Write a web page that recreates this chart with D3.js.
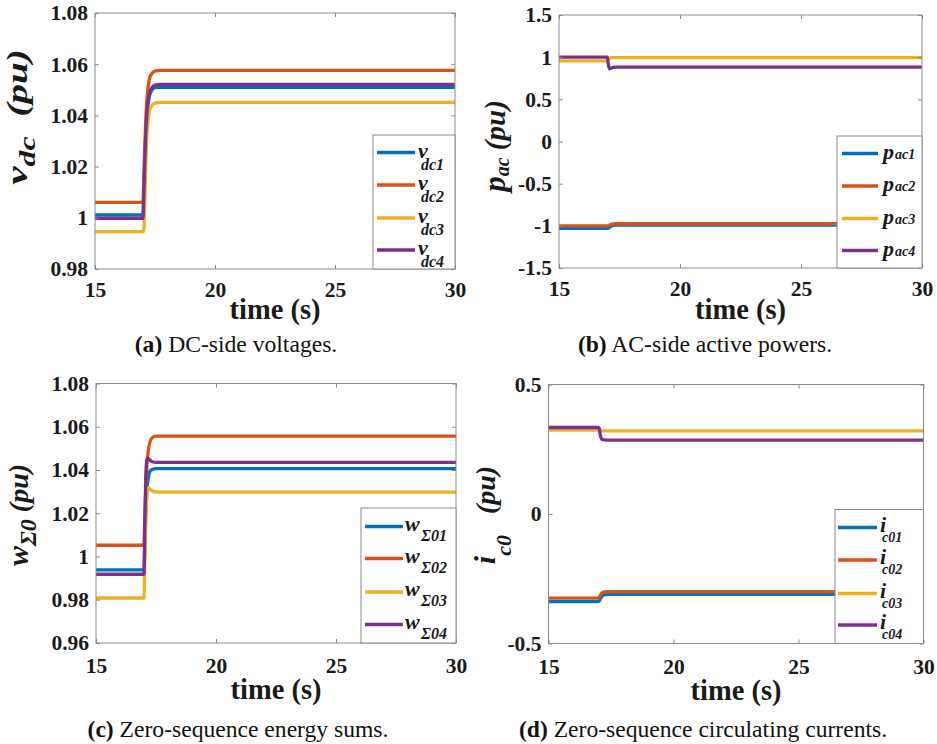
<!DOCTYPE html>
<html><head><meta charset="utf-8">
<script src="https://cdn.jsdelivr.net/npm/d3@7"></script>
<style>body{margin:0;background:#fff}svg{display:block}</style>
</head><body>
<script>
// ---------------- DATA ----------------
const xTicks = [15, 20, 25, 30];
const colors = ["#0072BD", "#D95319", "#EDB120", "#7E2F8E"];

// (a) DC-side voltages
const tA = [15, 17.0, 17.03, 17.07, 17.12, 17.18, 17.25, 17.35, 17.5, 17.7, 30];
const vdc1 = [1.0011, 1.0011, 1.0086, 1.0211, 1.0335, 1.0420, 1.0470, 1.0495, 1.0508, 1.0510, 1.0510];
const vdc2 = [1.0060, 1.0060, 1.0137, 1.0266, 1.0395, 1.0483, 1.0535, 1.0561, 1.0573, 1.0576, 1.0576];
const vdc3 = [0.9946, 0.9946, 0.9946, 1.0047, 1.0223, 1.0350, 1.0410, 1.0436, 1.0448, 1.0451, 1.0451];
const vdc4 = [0.9998, 0.9998, 1.0076, 1.0207, 1.0338, 1.0427, 1.0479, 1.0505, 1.0518, 1.0521, 1.0521];
const yTicksA = [0.98, 1.00, 1.02, 1.04, 1.06, 1.08];
const legA = ["dc1", "dc2", "dc3", "dc4"];

// (b) AC-side active powers
const tB = [15, 17.0, 17.03, 17.08, 17.15, 17.25, 17.4, 30];
const pac1 = [-1.030, -1.030, -1.028, -1.018, -1.005, -0.995, -0.990, -0.990];
const pac2 = [-1.000, -1.000, -0.999, -0.992, -0.982, -0.977, -0.975, -0.975];
const pac3 = [0.955, 0.955, 0.960, 0.985, 0.994, 0.995, 0.995, 0.995];
const pac4 = [1.000, 1.000, 0.930, 0.860, 0.870, 0.880, 0.883, 0.883];
const yTicksB = [-1.5, -1, -0.5, 0, 0.5, 1, 1.5];
const legB = ["ac1", "ac2", "ac3", "ac4"];

// (c) Zero-sequence energy sums
const tC = [15, 17.0, 17.03, 17.07, 17.12, 17.18, 17.25, 17.35, 17.5, 17.7, 30];
const wS01 = [0.9938, 0.9938, 1.0040, 1.0180, 1.0300, 1.0365, 1.0395, 1.0403, 1.0406, 1.0406, 1.0406];
const wS02 = [1.0052, 1.0052, 1.0160, 1.0300, 1.0420, 1.0490, 1.0530, 1.0550, 1.0557, 1.0557, 1.0557];
const wS03 = [0.9808, 0.9808, 0.9950, 1.0150, 1.0280, 1.0320, 1.0310, 1.0303, 1.0299, 1.0298, 1.0298];
const wS04 = [0.9918, 0.9918, 1.0120, 1.0350, 1.0450, 1.0454, 1.0445, 1.0438, 1.0435, 1.0435, 1.0435];
const yTicksC = [0.96, 0.98, 1.00, 1.02, 1.04, 1.06, 1.08];
const legC = ["Σ01", "Σ02", "Σ03", "Σ04"];

// (d) Zero-sequence circulating currents
const tD = [15, 17.0, 17.03, 17.08, 17.15, 17.25, 17.4, 30];
const ic01 = [-0.338, -0.338, -0.336, -0.326, -0.316, -0.311, -0.310, -0.310];
const ic02 = [-0.325, -0.325, -0.323, -0.313, -0.304, -0.301, -0.300, -0.300];
const ic03 = [0.324, 0.324, 0.323, 0.322, 0.321, 0.321, 0.321, 0.321];
const ic04 = [0.334, 0.334, 0.330, 0.300, 0.288, 0.286, 0.285, 0.285];
const yTicksD = [-0.5, 0, 0.5];
const legD = ["c01", "c02", "c03", "c04"];

// ---------------- DRAW ----------------
const SERIF = "'Liberation Serif','Times New Roman',serif";
const GRID = "#8a8a8a";
const svg = d3.select("body").append("svg").attr("width", 937).attr("height", 744)
  .style("font-family", SERIF);

function fmt(d) { return String(+d.toFixed(2)); }

function panel(c) {
  const x = d3.scaleLinear().domain([15, 30]).range([c.l, c.r]);
  const y = d3.scaleLinear().domain([c.yTicks[0], c.yTicks[c.yTicks.length - 1]]).range([c.b, c.t]);
  const g = svg.append("g");

  // lines
  const line = d3.line().x(d => x(d[0])).y(d => y(d[1])).curve(d3.curveMonotoneX);
  c.series.forEach((s, i) => {
    g.append("path").datum(c.time.map((t, j) => [t, s[j]]))
      .attr("d", line).attr("fill", "none")
      .attr("stroke", colors[i]).attr("stroke-width", 3.3)
      .attr("stroke-linejoin", "round");
  });

  // axes (ticks inward, mirrored)
  const ax = [
    [d3.axisBottom(x).tickValues(xTicks).tickFormat(d3.format("d")), `translate(0,${c.b})`],
    [d3.axisTop(x).tickValues(xTicks).tickFormat(""), `translate(0,${c.t})`],
    [d3.axisLeft(y).tickValues(c.yTicks).tickFormat(fmt), `translate(${c.l},0)`],
    [d3.axisRight(y).tickValues(c.yTicks).tickFormat(""), `translate(${c.r},0)`]
  ];
  ax.forEach(([a, tr], k) => {
    const ga = g.append("g").attr("transform", tr)
      .call(a.tickSizeInner(-4).tickSizeOuter(0));
    ga.select(".domain").remove();
    ga.selectAll(".tick line").attr("stroke", GRID);
    ga.selectAll("text").attr("font-family", SERIF).attr("font-weight", "bold")
      .attr("font-size", 21.5).attr("fill", "#1a1a1a");
    if (k === 0) ga.selectAll("text").attr("y", c.xTickDy).attr("dy", 0);
    if (k === 2) ga.selectAll("text").attr("x", -7).attr("dy", "0.32em");
  });
  g.append("rect").attr("x", c.l).attr("y", c.t).attr("width", c.r - c.l).attr("height", c.b - c.t)
    .attr("fill", "none").attr("stroke", GRID).attr("stroke-width", 1);

  // x label
  g.append("text").attr("x", (c.l + c.r) / 2).attr("y", c.b + c.xLabDy)
    .attr("text-anchor", "middle").attr("font-weight", "bold").attr("font-size", 28.5)
    .attr("fill", "#1a1a1a").text("time (s)");

  // y label
  const yl = g.append("text")
    .attr("transform", `translate(${c.ylx},${c.yly}) rotate(-90) scale(${c.ylsx},1)`)
    .attr("text-anchor", "middle").attr("font-weight", "bold").attr("font-style", "italic")
    .attr("fill", "#1a1a1a");
  c.ylab.forEach(sg => {
    yl.append("tspan").attr("font-size", sg.s).attr("dy", sg.dy || 0)
      .attr("xml:space", "preserve").text(sg.t);
  });

  // legend
  const L = c.leg;
  g.append("rect").attr("x", L.x0).attr("y", L.y0).attr("width", c.r - L.x0).attr("height", c.b - L.y0)
    .attr("fill", "#fff").attr("stroke", GRID).attr("stroke-width", 1);
  c.legNames.forEach((nm, i) => {
    const yy = L.ys[i];
    g.append("line").attr("x1", L.lx1).attr("x2", L.lx2).attr("y1", yy).attr("y2", yy)
      .attr("stroke", colors[i]).attr("stroke-width", 3.3);
    g.append("text").attr("x", L.mx).attr("y", yy + L.mdy)
      .attr("font-weight", "bold").attr("font-style", "italic").attr("font-size", L.ms)
      .attr("fill", "#1a1a1a").text(c.legMain);
    g.append("text").attr("x", L.sx).attr("y", yy + L.sdy)
      .attr("font-weight", "bold").attr("font-style", "italic").attr("font-size", L.ss)
      .attr("fill", "#1a1a1a").text(nm);
  });

  // caption
  const cap = g.append("text").attr("x", c.capX).attr("y", c.capY).attr("text-anchor", "middle")
    .attr("font-size", 23.6).attr("fill", "#111");
  cap.append("tspan").attr("font-weight", "bold").text(c.capTag);
  cap.append("tspan").attr("xml:space", "preserve").text(" " + c.capText);
}

panel({
  l: 95, r: 455, t: 13, b: 269, yTicks: yTicksA, time: tA, series: [vdc1, vdc2, vdc3, vdc4],
  xTickDy: 28, xLabDy: 50,
  ylx: 27, yly: 117, ylsx: 1.38,
  ylab: [{ t: "v", s: 30 }, { t: "dc", s: 23, dy: 8 }, { t: "  (pu)", s: 28.5, dy: -8 }],
  leg: { x0: 373, y0: 135, ys: [152.5, 185, 218, 250], lx1: 377, lx2: 415, mx: 418, mdy: 5, ms: 22, sx: 421, sdy: 17, ss: 16 },
  legMain: "v", legNames: legA,
  capX: 236, capY: 352, capTag: "(a)", capText: "DC-side voltages."
});

panel({
  l: 559, r: 922, t: 15, b: 268, yTicks: yTicksB, time: tB, series: [pac1, pac2, pac3, pac4],
  xTickDy: 28, xLabDy: 51,
  ylx: 505, yly: 146, ylsx: 1.0,
  ylab: [{ t: "p", s: 31 }, { t: "ac", s: 20, dy: 4 }, { t: " (pu)", s: 29, dy: -4 }],
  leg: { x0: 837, y0: 136, ys: [153.5, 186, 218.5, 250.5], lx1: 842, lx2: 878, mx: 883, mdy: 5, ms: 22, sx: 895, sdy: 5, ss: 14 },
  legMain: "p", legNames: legB,
  capX: 705, capY: 352, capTag: "(b)", capText: "AC-side active powers."
});

panel({
  l: 96, r: 456, t: 383.5, b: 643, yTicks: yTicksC, time: tC, series: [wS01, wS02, wS03, wS04],
  xTickDy: 30, xLabDy: 56,
  ylx: 28, yly: 515, ylsx: 1.0,
  ylab: [{ t: "w", s: 30 }, { t: "Σ0", s: 24, dy: 8 }, { t: " (pu)", s: 28, dy: -8 }],
  leg: { x0: 361, y0: 508, ys: [526.5, 558.5, 592, 624.5], lx1: 365, lx2: 403, mx: 405, mdy: 4, ms: 22, sx: 421, sdy: 14, ss: 16 },
  legMain: "w", legNames: legC,
  capX: 238, capY: 737, capTag: "(c)", capText: "Zero-sequence energy sums."
});

panel({
  l: 548.5, r: 923.5, t: 384.5, b: 643.5, yTicks: yTicksD, time: tD, series: [ic01, ic02, ic03, ic04],
  xTickDy: 30, xLabDy: 56,
  ylx: 495, yly: 515, ylsx: 1.0,
  ylab: [{ t: "i", s: 30 }, { t: "c0", s: 22, dy: 16 }, { t: "   (pu)", s: 28, dy: -16 }],
  leg: { x0: 835, y0: 509.5, ys: [527.5, 560, 593.5, 625], lx1: 838, lx2: 877, mx: 880, mdy: 4, ms: 22, sx: 882, sdy: 14, ss: 14 },
  legMain: "i", legNames: legD,
  capX: 703, capY: 737, capTag: "(d)", capText: "Zero-sequence circulating currents."
});
</script>
</body></html>
